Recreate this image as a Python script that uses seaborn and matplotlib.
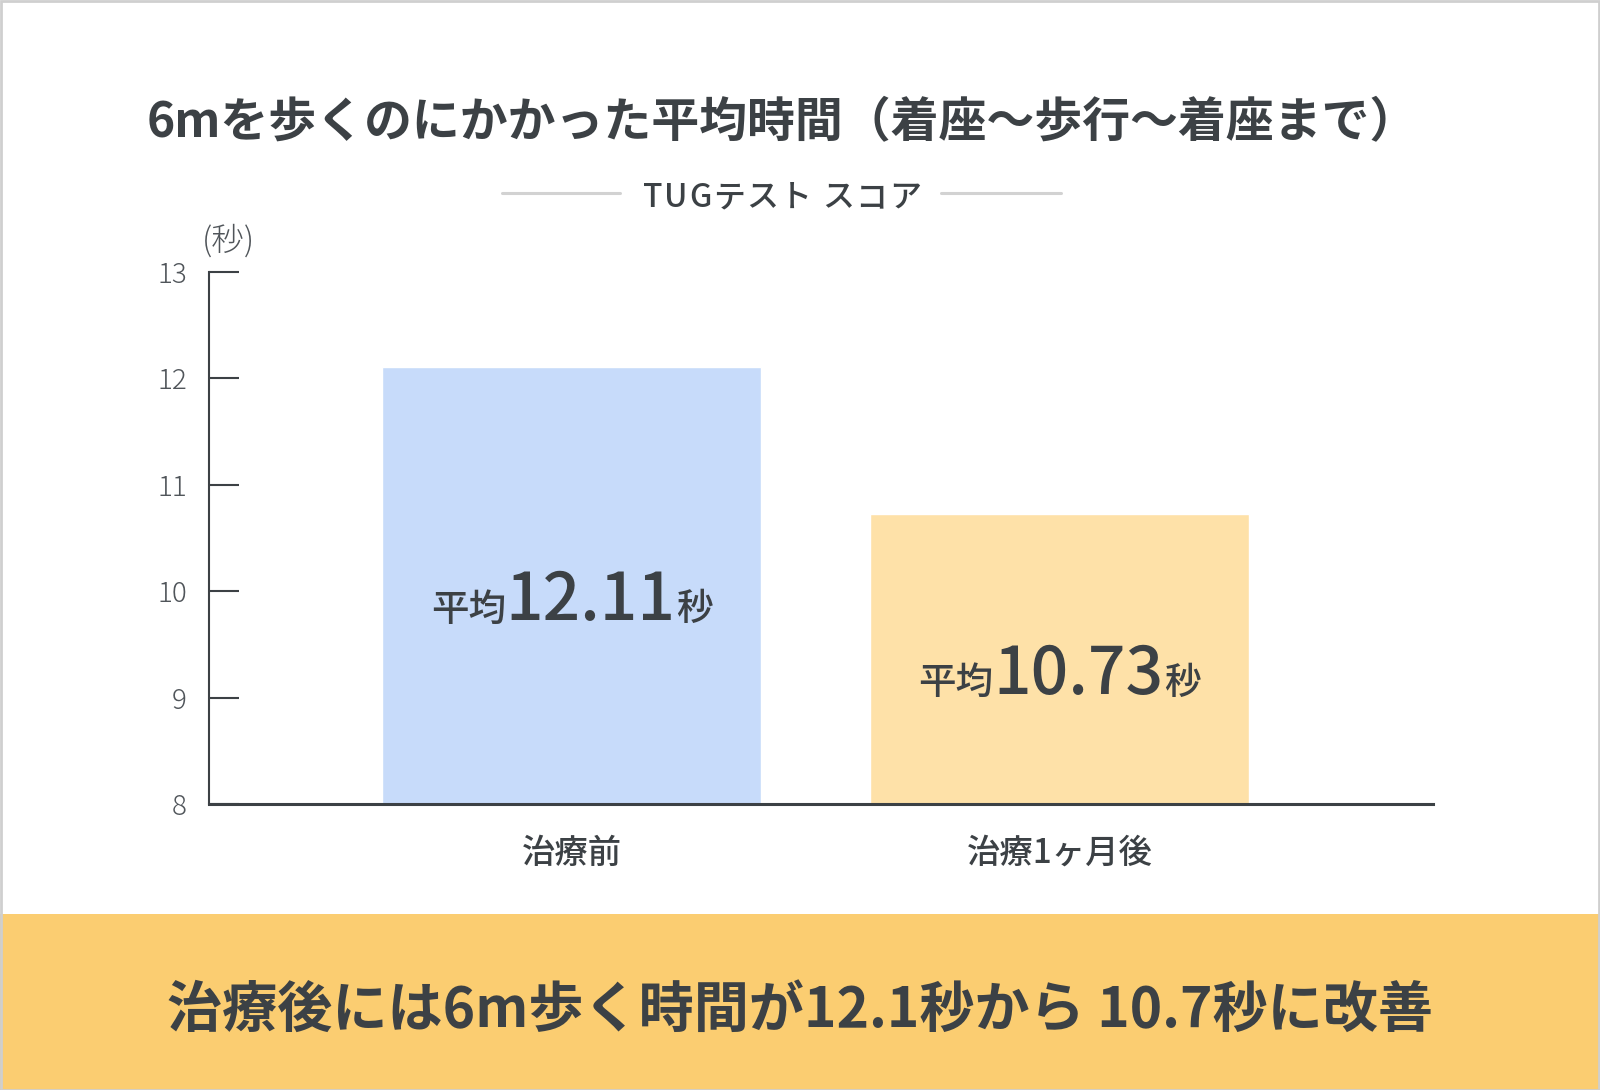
import matplotlib
matplotlib.use('Agg')
import matplotlib.pyplot as plt
import seaborn as sns
from matplotlib.patches import Rectangle
from matplotlib.lines import Line2D
from matplotlib.transforms import offset_copy

sns.set_style('white')
plt.rcParams['font.family'] = ['Noto Sans CJK JP', 'DejaVu Sans']

# data
categories = ['治療前', '治療1ヶ月後']
values = [12.11, 10.73]
bar_colors = ['#c7dbfa', '#fee1a8']
yticks = [8, 9, 10, 11, 12, 13]

title = '6mを歩くのにかかった平均時間（着座〜歩行〜着座まで）'
subtitle = 'TUGテスト スコア'
summary = '治療後には6m歩く時間が12.1秒から 10.7秒に改善'

TEXT = '#3c4145'
W, H = 1600, 1090

fig = plt.figure(figsize=(W / 100, H / 100), dpi=100)
fig.patch.set_facecolor('white')
renderer = fig.canvas.get_renderer()

ax = fig.add_axes([209 / W, (H - 804) / H, (1433 - 209) / W, (804 - 272) / H])
sns.barplot(x=categories, y=values, hue=categories, palette=bar_colors,
            width=0.777, legend=False, ax=ax, saturation=1)
ax.set_ylim(8, 13)
ax.set_xlim(-0.743, 1.765)
ax.set_yticks(yticks)
ax.set_yticklabels([str(t) for t in yticks], fontweight='light')
ax.set_xlabel('')
ax.set_ylabel('')
for s in ['top', 'right']:
    ax.spines[s].set_visible(False)
ax.spines['left'].set_color(TEXT)
ax.spines['left'].set_linewidth(1.5)
ax.spines['bottom'].set_color(TEXT)
ax.spines['bottom'].set_linewidth(2.2)
ax.tick_params(axis='y', direction='in', length=21.5, width=1.5, color=TEXT,
               labelsize=20, labelcolor='#50555a', pad=16, left=True)
ax.tick_params(axis='x', length=0, labelsize=24, labelcolor=TEXT, pad=23)
for lab in ax.get_xticklabels():
    lab.set_fontweight('medium')

ax.text(-0.743 + 19 / 488, 13.29, '(秒)', fontsize=23.5, fontweight='light',
        color='#50555a', ha='center', va='center')


def spaced_text(x, y, s, size, track, **kw):
    # figure-coord text with extra letter spacing (pixels)
    ts, ws = [], []
    for ch in s:
        t = fig.text(x, y, ch, fontsize=size, ha='left', va='center', **kw)
        ts.append(t)
        ws.append(t.get_window_extent(renderer).width)
    total = sum(ws) + track * (len(s) - 1)
    dx = -total / 2
    for t, w in zip(ts, ws):
        t.set_transform(offset_copy(fig.transFigure, fig=fig, x=dx, y=0, units='dots'))
        dx += w + track


# labels inside bars, mixed sizes
for i, v in enumerate(values):
    parts = [('平均', 27, 'medium'), (f'{v:.2f}', 47.5, 'medium'), ('秒', 26.5, 'medium')]
    texts, widths = [], []
    for s, size, wt in parts:
        t = ax.text(i, (8 + v) / 2 - 0.33, s, fontsize=size, fontweight=wt,
                    color=TEXT, ha='left', va='baseline')
        texts.append(t)
        widths.append(t.get_window_extent(renderer).width)
    dx = -sum(widths) / 2
    for t, w in zip(texts, widths):
        t.set_transform(offset_copy(ax.transData, fig=fig, x=dx, y=0, units='dots'))
        dx += w

# title and subtitle
fig.text(782 / W, 1 - 123 / H, title, fontsize=34.5, fontweight='bold',
         color=TEXT, ha='center', va='center')
spaced_text(782 / W, 1 - 198 / H, subtitle, 23, 1.5, color=TEXT, fontweight='medium')
for x0, x1 in [(502, 620), (941, 1061)]:
    fig.add_artist(Line2D([x0 / W, x1 / W], [1 - 193 / H, 1 - 193 / H],
                          transform=fig.transFigure, color='#d2d2d2', lw=2.2))

# bottom band
fig.add_artist(Rectangle((0, 0), 1, (H - 914) / H, transform=fig.transFigure,
                         facecolor='#fbcd71', edgecolor='none', zorder=0))
fig.text(800 / W, 1 - 1011 / H, summary, fontsize=39.7, fontweight='bold',
         color=TEXT, ha='center', va='center')

# outer frame
fig.add_artist(Rectangle((0.5 / W, 0.5 / H), 1 - 1.5 / W, 1 - 1.5 / H,
                         transform=fig.transFigure, facecolor='none',
                         edgecolor='#cfcfcf', lw=2, zorder=10))

fig.savefig('out.png', dpi=100)
